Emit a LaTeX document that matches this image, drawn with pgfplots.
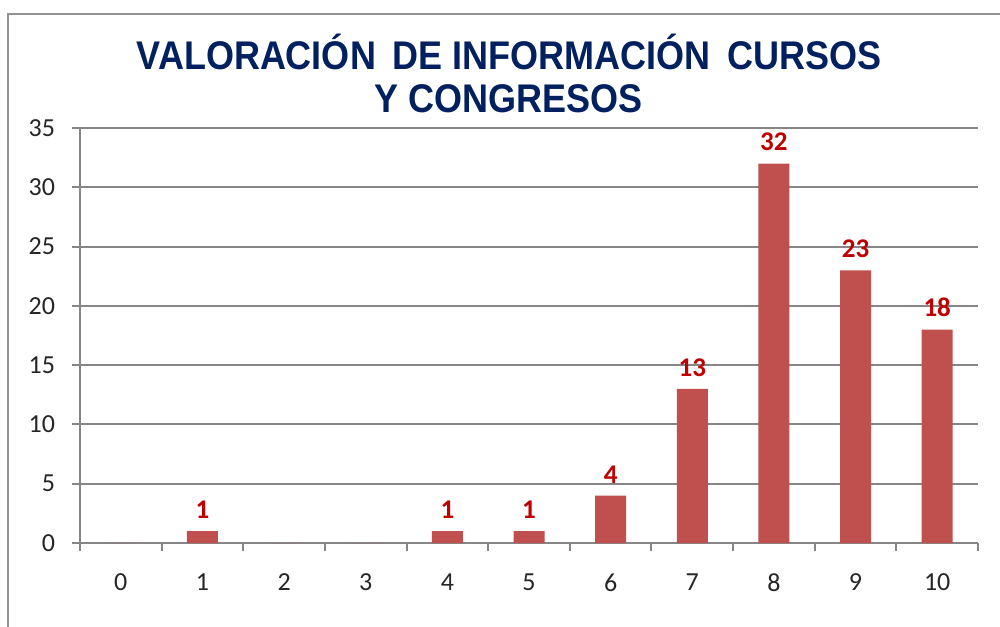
\documentclass[border=0pt]{standalone}
\usepackage{pgfplots}
\pgfplotsset{compat=1.18}
\usepackage{fontspec}
\setmainfont{Carlito}
\newfontfamily\titlefont[FakeStretch=0.9]{Liberation Sans}
\definecolor{barred}{RGB}{192,80,77}
\definecolor{labred}{RGB}{192,0,0}
\definecolor{titleblue}{RGB}{0,32,96}
\definecolor{gridgray}{RGB}{134,134,134}
\begin{document}
\begin{tikzpicture}[x=1pt,y=1pt]
\useasboundingbox (0,0) rectangle (500,313);
\fill[white] (0,0) rectangle (500,313);
\draw[gridgray!90, line width=1pt] (4,-10) -- (4,306) -- (520,306);
\node[titleblue, font=\titlefont\bfseries\fontsize{20}{21.5}\selectfont, align=center] at (254.5,276.5)
  {VALORACIÓN\, DE INFORMACIÓN\, CURSOS\\ Y CONGRESOS};
\begin{axis}[
  at={(40pt,41.5pt)}, anchor=south west,
  scale only axis, width=449pt, height=207.5pt,
  xmin=-0.5, xmax=10.5, ymin=0, ymax=35,
  axis lines*=left,
  axis line style={gridgray, line width=1pt, -},
  ytick={0,5,...,35},
  xtick={0,...,10},
  minor xtick={-0.5,0.5,...,10.5},
  tick align=outside,
  major tick length=4pt,
  minor tick length=4pt,
  x tick style={draw=none},
  minor x tick style={draw=gridgray, line width=1pt},
  y tick style={gridgray, line width=1pt},
  ymajorgrids,
  grid style={gridgray, line width=1pt},
  tick label style={font=\fontsize{13}{15}\selectfont, text=black!85},
  xticklabel style={yshift=-8pt},
  yticklabel style={xshift=-5pt},
  /pgf/number format/assume math mode=true,
  ybar, bar width=15.5pt,
  point meta=explicit symbolic,
  nodes near coords,
  nodes near coords style={anchor=south, inner sep=0pt, yshift=6pt, text=labred, font=\bfseries\fontsize{13.5}{15}\selectfont},
]
\addplot[fill=barred, draw=none] coordinates {
 (0,0) [] (1,1) [1] (2,0) [] (3,0) [] (4,1) [1] (5,1) [1]
 (6,4) [4] (7,13) [13] (8,32) [32] (9,23) [23] (10,18) [18]
};
\end{axis}
\end{tikzpicture}
\end{document}
